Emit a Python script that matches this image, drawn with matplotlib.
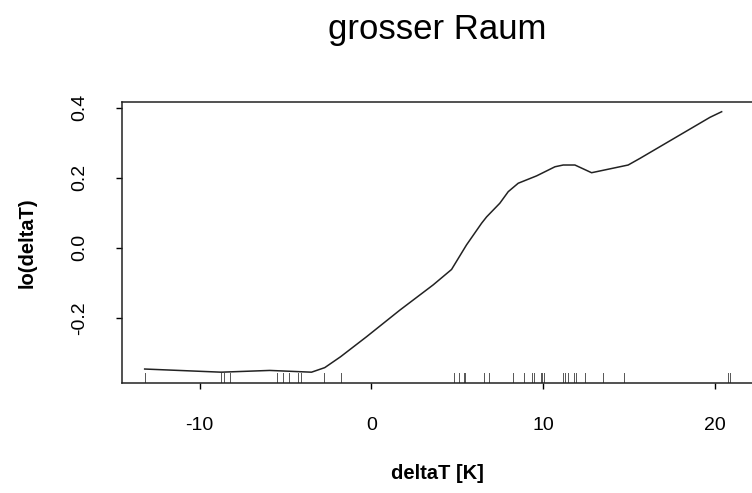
import matplotlib
matplotlib.use("Agg")
from matplotlib import pyplot as plt
import numpy as np

plt.rcParams['font.family'] = ['Liberation Sans', 'DejaVu Sans']
plt.rcParams['axes.unicode_minus'] = False

# loess curve
curve_x = [-13.2, -8.74, -5.92, -3.49, -2.72, -1.80, -0.29, 1.65, 3.59, 4.66,
           5.53, 6.41, 6.70, 7.47, 7.96, 8.54, 9.61, 10.68, 11.16, 11.84,
           12.81, 14.07, 14.94, 15.63, 19.70, 20.38]
curve_y = [-0.346, -0.355, -0.350, -0.355, -0.342, -0.311, -0.254, -0.178, -0.106, -0.062,
           0.008, 0.070, 0.088, 0.127, 0.160, 0.184, 0.205, 0.231, 0.236, 0.236,
           0.214, 0.227, 0.236, 0.255, 0.372, 0.388]

# observed deltaT values (rug)
rug_x = [-13.16, -8.74, -8.60, -8.25, -5.47, -5.15, -4.82, -4.25, -4.08, -2.76,
         -1.75, 4.83, 5.10, 5.36, 5.45, 6.56, 6.83, 8.23, 8.89, 9.34, 9.47,
         9.84, 9.92, 10.02, 11.16, 11.28, 11.42, 11.78, 11.88, 12.42, 13.47,
         14.68, 20.77, 20.88]

x_ticks = [-10, 0, 10, 20]
y_ticks = [-0.2, 0.0, 0.2, 0.4]
y_ticklabels = ['-0.2', '0.0', '0.2', '0.4']

fig = plt.figure(figsize=(7.52, 4.93), dpi=100)
ax = fig.add_axes([122 / 752, 110.3 / 493, 631.6 / 752, 281 / 493])

ax.plot(curve_x, curve_y, color='#222222', lw=1.1)
for xv in rug_x:
    ax.plot([xv, xv], [0, 0.033], color='#555555', lw=0.7,
            transform=ax.get_xaxis_transform())

ax.set_xlim(-14.52, 22.24)
ax.set_ylim(-0.385, 0.4166)
ax.set_xticks(x_ticks)
ax.set_yticks(y_ticks)
ax.set_yticklabels(y_ticklabels, rotation=90, va='center')
ax.tick_params(direction='out', length=4.5, width=1.0, labelsize=14, pad=20)
for s in ax.spines.values():
    s.set_linewidth(1.1)
    s.set_color('#222222')

ax.set_xlabel('deltaT [K]', fontsize=14.5, fontweight='bold')
ax.xaxis.set_label_coords(0.5, -0.29)
ax.set_ylabel('lo(deltaT)', fontsize=14.5, fontweight='bold')
ax.yaxis.set_label_coords(-0.1346, 0.5)

fig.text(437 / 752, 1 - 39 / 493, 'grosser Raum', fontsize=25, ha='center',
         va='baseline')

fig.savefig('out.png', dpi=100)
